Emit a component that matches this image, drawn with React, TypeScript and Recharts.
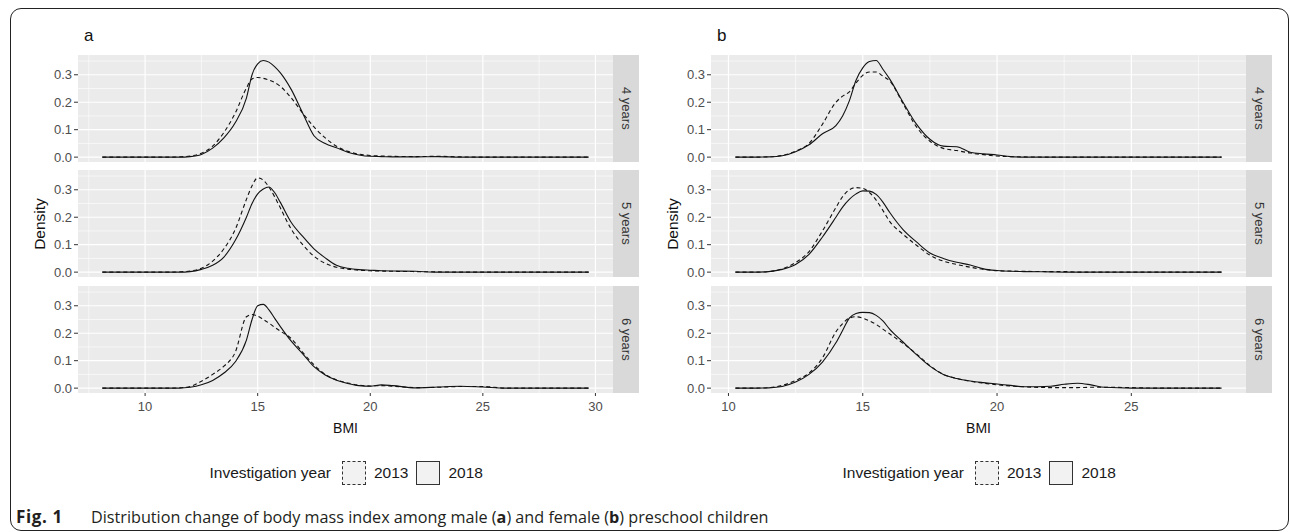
import React from "react";
import { LineChart, Line, XAxis, YAxis, CartesianGrid, ReferenceLine } from "recharts";

// BMI sample points (x) for each panel
const maleBmi = [8.1, 10, 11, 11.5, 12, 12.5, 13, 13.5, 14, 14.5, 14.75, 15, 15.25, 15.5, 15.75, 16, 16.5, 17, 17.5, 18, 18.5, 19, 19.5, 20, 20.5, 21, 22, 23, 24, 25, 26, 27, 28, 29.7];
const femaleBmi = [10.26, 11, 11.5, 12, 12.5, 13, 13.5, 14, 14.25, 14.5, 14.75, 15, 15.25, 15.5, 15.75, 16, 16.5, 17, 17.5, 18, 18.5, 19, 19.5, 20, 20.5, 21, 22, 22.5, 23, 23.5, 24, 25, 26, 27, 28.36];

// male (a) densities
const male4y2013 = [0, 0, 0, 0.001, 0.004, 0.014, 0.04, 0.09, 0.16, 0.252, 0.285, 0.29, 0.287, 0.281, 0.272, 0.258, 0.215, 0.16, 0.11, 0.07, 0.04, 0.021, 0.011, 0.006, 0.004, 0.003, 0.002, 0.003, 0.001, 0, 0, 0, 0, 0];
const male4y2018 = [0, 0, 0, 0, 0.002, 0.01, 0.033, 0.07, 0.125, 0.215, 0.3, 0.34, 0.352, 0.346, 0.33, 0.308, 0.245, 0.16, 0.078, 0.05, 0.034, 0.018, 0.008, 0.003, 0.002, 0.001, 0.001, 0.002, 0, 0, 0, 0, 0, 0];
const male5y2013 = [0, 0, 0, 0.001, 0.004, 0.014, 0.04, 0.085, 0.155, 0.265, 0.315, 0.343, 0.335, 0.31, 0.275, 0.235, 0.155, 0.1, 0.058, 0.032, 0.018, 0.011, 0.007, 0.005, 0.004, 0.003, 0.002, 0.001, 0, 0, 0, 0, 0, 0];
const male5y2018 = [0, 0, 0, 0, 0.002, 0.01, 0.025, 0.055, 0.115, 0.2, 0.25, 0.285, 0.303, 0.31, 0.29, 0.255, 0.18, 0.13, 0.085, 0.052, 0.025, 0.014, 0.009, 0.007, 0.005, 0.004, 0.003, 0, 0, 0, 0, 0, 0, 0];
const male6y2013 = [0, 0, 0, 0.001, 0.006, 0.025, 0.05, 0.08, 0.13, 0.26, 0.268, 0.262, 0.25, 0.237, 0.222, 0.208, 0.18, 0.13, 0.085, 0.05, 0.03, 0.019, 0.011, 0.008, 0.009, 0.007, 0.002, 0.003, 0.006, 0.006, 0, 0, 0, 0];
const male6y2018 = [0, 0, 0, 0, 0.003, 0.012, 0.028, 0.055, 0.095, 0.175, 0.25, 0.3, 0.305, 0.285, 0.255, 0.225, 0.17, 0.125, 0.078, 0.048, 0.029, 0.017, 0.009, 0.007, 0.012, 0.009, 0.001, 0.004, 0.007, 0.004, 0, 0, 0, 0];

// female (b) densities
const female4y2013 = [0, 0, 0.001, 0.006, 0.022, 0.05, 0.12, 0.2, 0.222, 0.238, 0.27, 0.298, 0.31, 0.31, 0.295, 0.278, 0.195, 0.11, 0.058, 0.032, 0.024, 0.015, 0.009, 0.004, 0.002, 0.001, 0, 0, 0, 0, 0, 0, 0, 0, 0];
const female4y2018 = [0, 0, 0.001, 0.005, 0.02, 0.045, 0.085, 0.115, 0.15, 0.205, 0.28, 0.325, 0.348, 0.352, 0.32, 0.285, 0.2, 0.12, 0.065, 0.04, 0.038, 0.018, 0.012, 0.008, 0.002, 0, 0, 0, 0, 0, 0, 0, 0, 0, 0];
const female5y2013 = [0, 0, 0.002, 0.012, 0.035, 0.075, 0.15, 0.235, 0.275, 0.3, 0.308, 0.305, 0.29, 0.262, 0.225, 0.185, 0.138, 0.098, 0.062, 0.04, 0.028, 0.018, 0.01, 0.005, 0.004, 0.003, 0.002, 0.002, 0, 0, 0, 0, 0, 0, 0];
const female5y2018 = [0, 0, 0.002, 0.01, 0.028, 0.065, 0.128, 0.2, 0.237, 0.265, 0.285, 0.296, 0.295, 0.283, 0.255, 0.218, 0.155, 0.11, 0.07, 0.05, 0.036, 0.026, 0.012, 0.006, 0.003, 0.002, 0.001, 0, 0, 0, 0, 0, 0, 0, 0];
const female6y2013 = [0, 0, 0.002, 0.01, 0.028, 0.055, 0.11, 0.205, 0.235, 0.255, 0.26, 0.255, 0.245, 0.232, 0.215, 0.198, 0.163, 0.125, 0.082, 0.05, 0.035, 0.025, 0.018, 0.012, 0.008, 0.005, 0.002, 0.002, 0.002, 0.003, 0.003, 0.002, 0, 0, 0];
const female6y2018 = [0, 0, 0.001, 0.006, 0.022, 0.05, 0.095, 0.165, 0.21, 0.255, 0.272, 0.276, 0.275, 0.265, 0.245, 0.215, 0.168, 0.122, 0.08, 0.05, 0.035, 0.026, 0.02, 0.015, 0.01, 0.005, 0.007, 0.014, 0.018, 0.012, 0.003, 0, 0, 0, 0];

const ageLabels = ["4 years", "5 years", "6 years"];
const yearLabels = ["2013", "2018"];
const maleTicks = [10, 15, 20, 25, 30];
const maleMinor = [7.5, 12.5, 17.5, 22.5, 27.5];
const femaleTicks = [10, 15, 20, 25];
const femaleMinor = [12.5, 17.5, 22.5, 27.5];
const densityTicks = [0, 0.1, 0.2, 0.3];
const densityMinor = [0.05, 0.15, 0.25, 0.35];

const PLOT_W = 535;
const FACET_H = 107;
const FACET_TOPS = [55, 170, 286];
const Y_AXIS_W = 40;
const X_AXIS_H = 24;
const STRIP_W = 26;
const Y_DOMAIN = [-0.0177, 0.372];
const FONT = "'Liberation Sans', Arial, sans-serif";

const toRows = (xs: number[], a: number[], b: number[]) =>
  xs.map((x, i) => ({ bmi: x, y2013: a[i], y2018: b[i] }));

interface FacetProps {
  rows: { bmi: number; y2013: number; y2018: number }[];
  left: number;
  top: number;
  xDomain: number[];
  xTicks: number[];
  xMinor: number[];
  showX: boolean;
  strip: string;
}

function Facet({ rows, left, top, xDomain, xTicks, xMinor, showX, strip }: FacetProps) {
  const h = FACET_H + (showX ? X_AXIS_H : 0);
  return (
    <div style={{ position: "absolute", left: left - Y_AXIS_W, top, width: Y_AXIS_W + PLOT_W + STRIP_W, height: h }}>
      <LineChart width={Y_AXIS_W + PLOT_W} height={h} data={rows} margin={{ top: 0, right: 0, bottom: 0, left: 0 }}>
        <CartesianGrid fill="#ebebeb" fillOpacity={1} horizontal={false} vertical={false} />
        {xMinor.map((v) => (
          <ReferenceLine key={"xm" + v} x={v} stroke="#ffffff" strokeWidth={0.6} />
        ))}
        {densityMinor.map((v) => (
          <ReferenceLine key={"ym" + v} y={v} stroke="#ffffff" strokeWidth={0.6} />
        ))}
        {xTicks.map((v) => (
          <ReferenceLine key={"x" + v} x={v} stroke="#ffffff" strokeWidth={1.2} />
        ))}
        {densityTicks.map((v) => (
          <ReferenceLine key={"y" + v} y={v} stroke="#ffffff" strokeWidth={1.2} />
        ))}
        <XAxis
          dataKey="bmi"
          type="number"
          domain={xDomain}
          ticks={xTicks}
          interval={0}
          allowDataOverflow
          hide={!showX}
          height={X_AXIS_H}
          axisLine={false}
          tickLine={{ stroke: "#333333" }}
          tickSize={3}
          tickMargin={6}
          tick={{ fontSize: 13, fill: "#4d4d4d", fontFamily: FONT }}
        />
        <YAxis
          type="number"
          domain={Y_DOMAIN}
          ticks={densityTicks}
          interval={0}
          allowDataOverflow
          width={Y_AXIS_W}
          axisLine={false}
          tickLine={{ stroke: "#333333" }}
          tickSize={4}
          tickMargin={2}
          tickFormatter={(v: number) => v.toFixed(1)}
          tick={{ fontSize: 13, fill: "#4d4d4d", fontFamily: FONT }}
        />
        <Line dataKey="y2013" name={yearLabels[0]} type="monotone" stroke="#111" strokeWidth={1.1} strokeDasharray="4 3" dot={false} isAnimationActive={false} />
        <Line dataKey="y2018" name={yearLabels[1]} type="monotone" stroke="#111" strokeWidth={1.1} dot={false} isAnimationActive={false} />
      </LineChart>
      <div
        style={{
          position: "absolute",
          left: Y_AXIS_W + PLOT_W,
          top: 0,
          width: STRIP_W,
          height: FACET_H,
          background: "#d9d9d9",
          display: "flex",
          alignItems: "center",
          justifyContent: "center",
          writingMode: "vertical-rl",
          fontSize: 13,
          color: "#333",
          fontFamily: FONT,
        }}
      >
        {strip}
      </div>
    </div>
  );
}

function Legend({ left }: { left: number }) {
  const key = (dashed: boolean) => (
    <div
      style={{
        width: 24,
        height: 24,
        boxSizing: "border-box",
        border: `1.3px ${dashed ? "dashed" : "solid"} #333`,
        background: "#f2f2f2",
      }}
    />
  );
  return (
    <div
      style={{
        position: "absolute",
        left,
        top: 461,
        height: 24,
        display: "flex",
        alignItems: "center",
        fontSize: 15.5,
        fontFamily: FONT,
        color: "#1a1a1a",
        whiteSpace: "nowrap",
      }}
    >
      <span style={{ marginRight: 11 }}>Investigation year</span>
      {key(true)}
      <span style={{ marginLeft: 8, marginRight: 8 }}>{yearLabels[0]}</span>
      {key(false)}
      <span style={{ marginLeft: 8 }}>{yearLabels[1]}</span>
    </div>
  );
}

interface PanelProps {
  tag: string;
  plotLeft: number;
  xs: number[];
  series: number[][][];
  xDomain: number[];
  xTicks: number[];
  xMinor: number[];
}

function Panel({ tag, plotLeft, xs, series, xDomain, xTicks, xMinor }: PanelProps) {
  const centerX = plotLeft + PLOT_W / 2;
  return (
    <>
      <div style={{ position: "absolute", left: plotLeft + 6, top: 26, fontSize: 17, lineHeight: "20px", fontFamily: FONT, color: "#111" }}>
        {tag}
      </div>
      {series.map(([a, b], i) => (
        <Facet
          key={i}
          rows={toRows(xs, a, b)}
          left={plotLeft}
          top={FACET_TOPS[i]}
          xDomain={xDomain}
          xTicks={xTicks}
          xMinor={xMinor}
          showX={i === 2}
          strip={ageLabels[i]}
        />
      ))}
      <div
        style={{
          position: "absolute",
          left: plotLeft - 38,
          top: 224,
          transform: "translate(-50%, -50%) rotate(-90deg)",
          fontSize: 15.5,
          fontFamily: FONT,
          color: "#111",
          whiteSpace: "nowrap",
        }}
      >
        Density
      </div>
      <div
        style={{
          position: "absolute",
          left: centerX,
          top: 428,
          transform: "translate(-50%, -50%)",
          fontSize: 14,
          fontFamily: FONT,
          color: "#111",
        }}
      >
        BMI
      </div>
      <Legend left={centerX - 136} />
    </>
  );
}

export default function App() {
  return (
    <div style={{ position: "absolute", left: 0, top: 0, width: 1290, height: 532, background: "#fff", overflow: "hidden" }}>
      <style>{".recharts-surface{overflow:visible}"}</style>
      <div
        style={{
          position: "absolute",
          left: 10,
          top: 8,
          width: 1279,
          height: 523,
          border: "1.4px solid #222",
          borderRadius: 11,
          boxSizing: "border-box",
        }}
      />
      <Panel
        tag="a"
        plotLeft={78}
        xs={maleBmi}
        series={[
          [male4y2013, male4y2018],
          [male5y2013, male5y2018],
          [male6y2013, male6y2018],
        ]}
        xDomain={[7.02, 30.78]}
        xTicks={maleTicks}
        xMinor={maleMinor}
      />
      <Panel
        tag="b"
        plotLeft={711}
        xs={femaleBmi}
        series={[
          [female4y2013, female4y2018],
          [female5y2013, female5y2018],
          [female6y2013, female6y2018],
        ]}
        xDomain={[9.35, 29.27]}
        xTicks={femaleTicks}
        xMinor={femaleMinor}
      />
      <div
        style={{
          position: "absolute",
          left: 16,
          top: 507,
          fontSize: 16.2,
          lineHeight: "20px",
          fontFamily: "'Open Sans', 'Noto Sans', sans-serif",
          color: "#231f20",
          whiteSpace: "nowrap",
        }}
      >
        <b style={{ display: "inline-block", width: 75, fontSize: 17, letterSpacing: 0.6 }}>Fig. 1</b>Distribution change of body mass index among male (<b>a</b>) and female (<b>b</b>) preschool children
      </div>
    </div>
  );
}
